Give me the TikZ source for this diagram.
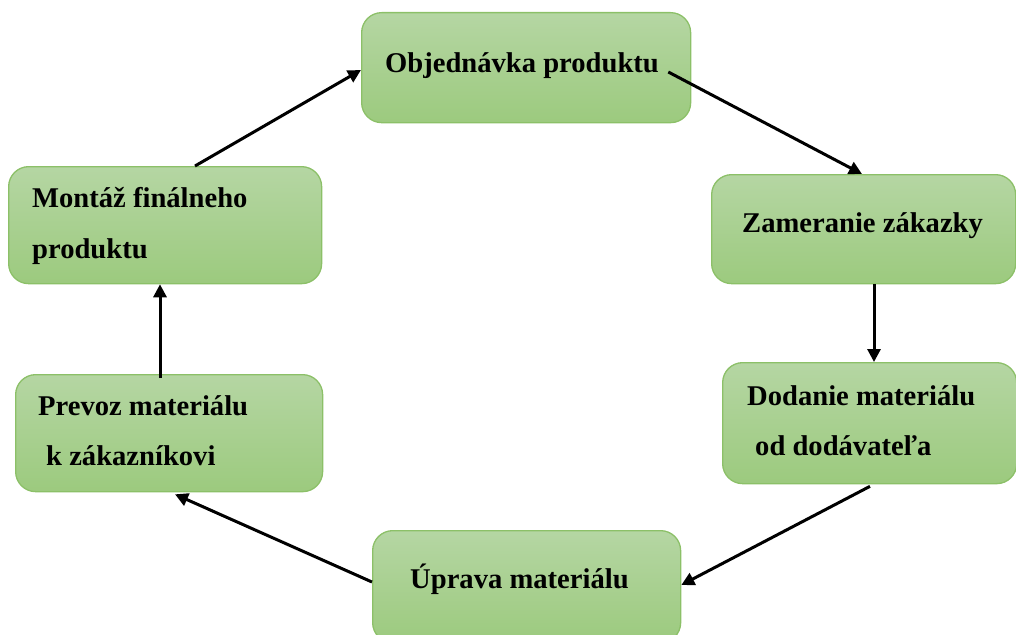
\documentclass[tikz,border=0pt]{standalone}
\usepackage{fontspec}
\setmainfont{Liberation Serif}
\usetikzlibrary{arrows.meta}
\definecolor{boxtop}{HTML}{B5D6A3}
\definecolor{boxbot}{HTML}{9CCA7E}
\definecolor{boxline}{HTML}{8CC068}
\tikzset{
  stagebox/.style={draw=boxline, line width=1.3pt, rounded corners=20pt,
    top color=boxtop, bottom color=boxbot, shading angle=0,
    anchor=north west, inner sep=0pt},
  lbl/.style={anchor=base west, inner sep=0pt, font=\fontsize{28.6}{34}\selectfont\bfseries},
  flow/.style={line width=3pt, -{Triangle[length=13pt,width=13pt]}}
}
\begin{document}
\begin{tikzpicture}[x=1pt,y=-1pt]
\useasboundingbox (0,0) rectangle (1016,634);
\node[stagebox, minimum width=329pt, minimum height=110pt] (b1) at (361,12) {};
\node[stagebox, minimum width=304pt, minimum height=109pt] (b2) at (711,174) {};
\node[stagebox, minimum width=294pt, minimum height=121pt] (b3) at (722,362) {};
\node[stagebox, minimum width=308pt, minimum height=112pt] (b4) at (372,530) {};
\node[stagebox, minimum width=313pt, minimum height=117pt] (b5) at (8,166) {};
\node[stagebox, minimum width=307pt, minimum height=117pt] (b6) at (15,374) {};

\node[lbl] (t1) at (385,72) {Objednávka produktu};
\node[lbl] (t2) at (742,232) {Zameranie zákazky};
\node[lbl] (t3a) at (747,405) {Dodanie materiálu};
\node[lbl] (t3b) at (755,455) {od dodávateľa};
\node[lbl] (t4) at (410,588) {Úprava materiálu};
\node[lbl] (t5a) at (32,207) {Montáž finálneho};
\node[lbl] (t5b) at (32,258) {produktu};
\node[lbl] (t6a) at (38,415) {Prevoz materiálu};
\node[lbl] (t6b) at (46,465) {k zákazníkovi};

\draw[flow] ([xshift=187pt]b5.north west) -- ([yshift=-58pt]b1.north west);
\draw[flow] ([xshift=-23pt,yshift=-60pt]b1.north east) -- ([xshift=151pt]b2.north west);
\draw[flow] ([xshift=163pt]b2.south west) -- ([xshift=152pt]b3.north west);
\draw[flow] ([xshift=148pt,yshift=-2pt]b3.south west) -- ([yshift=-55pt]b4.north east);
\draw[flow] ([yshift=-52pt]b4.north west) -- ([xshift=160pt,yshift=-2pt]b6.south west);
\draw[flow] ([xshift=145pt,yshift=-4pt]b6.north west) -- ([xshift=152pt]b5.south west);
\end{tikzpicture}
\end{document}
